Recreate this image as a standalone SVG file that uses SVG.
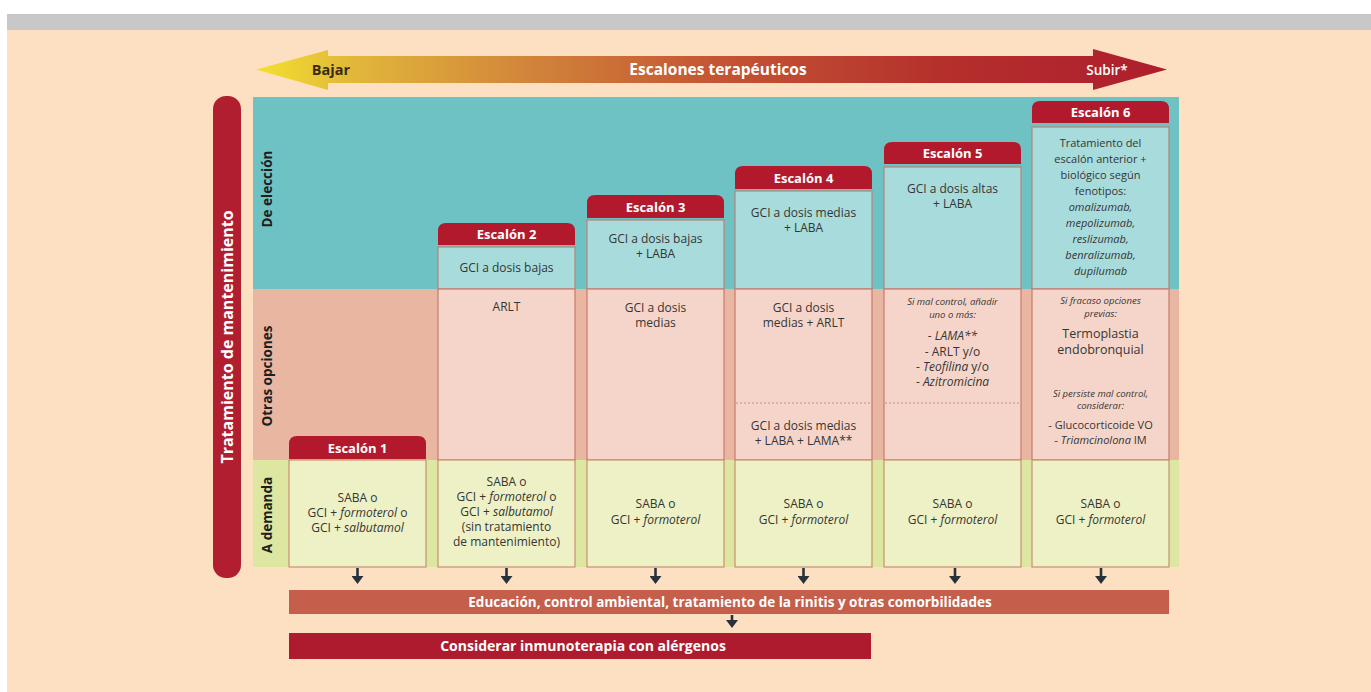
<svg xmlns="http://www.w3.org/2000/svg" width="1371" height="692" viewBox="0 0 1371 692">
<defs>
<linearGradient id="gArrow" gradientUnits="userSpaceOnUse" x1="256" y1="0" x2="1167" y2="0">
<stop offset="0" stop-color="#F4E12E"/>
<stop offset="0.1" stop-color="#E2B93A"/>
<stop offset="0.3" stop-color="#D2843A"/>
<stop offset="0.5" stop-color="#C45634"/>
<stop offset="0.75" stop-color="#B5302C"/>
<stop offset="1" stop-color="#AE1D2E"/>
</linearGradient>
<marker id="ahd" viewBox="0 0 12 9" refX="6" refY="1" markerWidth="12" markerHeight="9" markerUnits="userSpaceOnUse" orient="0">
<path d="M0,0 L12,0 L6,8 Z" fill="#28323D"/>
</marker>
</defs>
<style>
text{font-family:"Open Sans","Liberation Sans",sans-serif;}
.hdr{fill:#B3192D;}
.htx{fill:#FFFFFF;font-weight:700;font-size:13px;text-anchor:middle;}
.bt{fill:#A8DBDB;stroke:#B98279;stroke-width:1.2;}
.bs{fill:#F5D5C9;stroke:#C97A70;stroke-width:1.2;}
.bg{fill:#EDF1C5;stroke:#C99070;stroke-width:1.2;}
.t{fill:#353535;font-size:12px;text-anchor:middle;font-weight:500;}
.s{fill:#353535;font-size:9.5px;text-anchor:middle;font-style:italic;font-weight:500;}
.i{font-style:italic;}
.row{fill:#1E1E1E;font-weight:700;font-size:13.5px;text-anchor:middle;}
.dot{stroke:#C98C88;stroke-width:1.2;stroke-dasharray:2 2;fill:none;}
.con{stroke:#28323D;stroke-width:2.6;fill:none;}
</style>

<rect x="0" y="0" width="1371" height="692" fill="#FFFFFF"/>
<rect x="7" y="30" width="1364" height="662" fill="#FDE0C1"/>
<rect x="7" y="14" width="1364" height="16" fill="#C8C8C8"/>

<g id="arrow-escalones">
<path d="M256,69.5 L328,50 L328,56 L1093,56 L1093,49 L1167,69.5 L1093,90 L1093,83 L328,83 L328,90 Z" fill="url(#gArrow)"/>
<text x="331" y="75" style="fill:#3A2A10;font-weight:700;font-size:14.5px;text-anchor:middle;">Bajar</text>
<text x="718" y="75" style="fill:#FFFFFF;font-weight:700;font-size:15.5px;text-anchor:middle;">Escalones terapéuticos</text>
<text x="1107" y="75" style="fill:#FFFFFF;font-weight:600;font-size:13.5px;text-anchor:middle;">Subir*</text>
</g>

<g id="panel">
<rect x="253" y="97" width="926" height="192" fill="#6EC2C3"/>
<rect x="253" y="289" width="926" height="171" fill="#E9B7A1"/>
<rect x="253" y="460" width="926" height="107" fill="#DDE7A1"/>
</g>

<g id="tratamiento-mantenimiento">
<rect x="213" y="96" width="28" height="482" rx="13" fill="#B01E2F"/>
<text transform="translate(232.5,337) rotate(-90)" style="fill:#FFFFFF;font-weight:700;font-size:16px;text-anchor:middle;">Tratamiento de mantenimiento</text>
</g>

<g id="row-eleccion"><text class="row" transform="translate(272,189) rotate(-90)">De elección</text></g>
<g id="row-otras"><text class="row" transform="translate(272,376) rotate(-90)">Otras opciones</text></g>
<g id="row-demanda"><text class="row" transform="translate(272,515) rotate(-90)">A demanda</text></g>

<g id="escalon1">
<path class="hdr" d="M289,459 L289,444 Q289,436 297,436 L418,436 Q426,436 426,444 L426,459 Z"/>
<text class="htx" x="357.5" y="453">Escalón 1</text>
<rect class="bg" x="289" y="460" width="137" height="107"/>
<text class="t" x="357.5" y="502">SABA o</text>
<text class="t" x="357.5" y="517">GCI + <tspan class="i">formoterol</tspan> o</text>
<text class="t" x="357.5" y="532">GCI + <tspan class="i">salbutamol</tspan></text>
</g>

<g id="escalon2">
<path class="hdr" d="M438,245 L438,231 Q438,223 446,223 L567,223 Q575,223 575,231 L575,245 Z"/>
<text class="htx" x="506.5" y="239">Escalón 2</text>
<rect class="bt" x="438" y="247" width="137" height="42"/>
<rect class="bs" x="438" y="289" width="137" height="171"/>
<rect class="bg" x="438" y="460" width="137" height="107"/>
<text class="t" x="506.5" y="272">GCI a dosis bajas</text>
<text class="t" x="506.5" y="311">ARLT</text>
<text class="t" x="506.5" y="486">SABA o</text>
<text class="t" x="506.5" y="501">GCI + <tspan class="i">formoterol</tspan> o</text>
<text class="t" x="506.5" y="516">GCI + <tspan class="i">salbutamol</tspan></text>
<text class="t" x="506.5" y="531">(sin tratamiento</text>
<text class="t" x="506.5" y="546">de mantenimiento)</text>
</g>

<g id="escalon3">
<path class="hdr" d="M587,218 L587,203 Q587,195 595,195 L716,195 Q724,195 724,203 L724,218 Z"/>
<text class="htx" x="655.5" y="211.5">Escalón 3</text>
<rect class="bt" x="587" y="220" width="137" height="69"/>
<rect class="bs" x="587" y="289" width="137" height="171"/>
<rect class="bg" x="587" y="460" width="137" height="107"/>
<text class="t" x="655.5" y="243">GCI a dosis bajas</text>
<text class="t" x="655.5" y="258">+ LABA</text>
<text class="t" x="655.5" y="312">GCI a dosis</text>
<text class="t" x="655.5" y="327">medias</text>
<text class="t" x="655.5" y="508">SABA o</text>
<text class="t" x="655.5" y="524">GCI + <tspan class="i">formoterol</tspan></text>
</g>

<g id="escalon4">
<path class="hdr" d="M735,189 L735,174 Q735,166 743,166 L864,166 Q872,166 872,174 L872,189 Z"/>
<text class="htx" x="803.5" y="182.5">Escalón 4</text>
<rect class="bt" x="735" y="191" width="137" height="98"/>
<rect class="bs" x="735" y="289" width="137" height="171"/>
<rect class="bg" x="735" y="460" width="137" height="107"/>
<text class="t" x="803.5" y="217">GCI a dosis medias</text>
<text class="t" x="803.5" y="232">+ LABA</text>
<text class="t" x="803.5" y="312">GCI a dosis</text>
<text class="t" x="803.5" y="327">medias + ARLT</text>
<line class="dot" x1="736" y1="403" x2="871" y2="403"/>
<text class="t" x="803.5" y="430">GCI a dosis medias</text>
<text class="t" x="803.5" y="445">+ LABA + LAMA**</text>
<text class="t" x="803.5" y="508">SABA o</text>
<text class="t" x="803.5" y="524">GCI + <tspan class="i">formoterol</tspan></text>
</g>

<g id="escalon5">
<path class="hdr" d="M884,164 L884,150 Q884,142 892,142 L1013,142 Q1021,142 1021,150 L1021,164 Z"/>
<text class="htx" x="952.5" y="158">Escalón 5</text>
<rect class="bt" x="884" y="167" width="137" height="122"/>
<rect class="bs" x="884" y="289" width="137" height="171"/>
<rect class="bg" x="884" y="460" width="137" height="107"/>
<text class="t" x="952.5" y="193">GCI a dosis altas</text>
<text class="t" x="952.5" y="208">+ LABA</text>
<text class="s" x="952.5" y="305">Si mal control, añadir</text>
<text class="s" x="952.5" y="318">uno o más:</text>
<text class="t" x="952.5" y="340">- <tspan class="i">LAMA**</tspan></text>
<text class="t" x="952.5" y="356">- ARLT y/o</text>
<text class="t" x="952.5" y="371">- <tspan class="i">Teofilina</tspan> y/o</text>
<text class="t" x="952.5" y="386">- <tspan class="i">Azitromicina</tspan></text>
<line class="dot" x1="885" y1="403" x2="1020" y2="403"/>
<text class="t" x="952.5" y="508">SABA o</text>
<text class="t" x="952.5" y="524">GCI + <tspan class="i">formoterol</tspan></text>
</g>

<g id="escalon6">
<path class="hdr" d="M1032,123 L1032,109 Q1032,101 1040,101 L1161,101 Q1169,101 1169,109 L1169,123 Z"/>
<text class="htx" x="1100.5" y="117">Escalón 6</text>
<rect class="bt" x="1032" y="127" width="137" height="162"/>
<rect class="bs" x="1032" y="289" width="137" height="171"/>
<rect class="bg" x="1032" y="460" width="137" height="107"/>
<text class="t" x="1100.5" y="147" style="font-size:11px">Tratamiento del</text>
<text class="t" x="1100.5" y="163" style="font-size:11px">escalón anterior +</text>
<text class="t" x="1100.5" y="179" style="font-size:11px">biológico según</text>
<text class="t" x="1100.5" y="195" style="font-size:11px">fenotipos:</text>
<text class="t i" x="1100.5" y="211" style="font-size:11px">omalizumab,</text>
<text class="t i" x="1100.5" y="227" style="font-size:11px">mepolizumab,</text>
<text class="t i" x="1100.5" y="243" style="font-size:11px">reslizumab,</text>
<text class="t i" x="1100.5" y="259" style="font-size:11px">benralizumab,</text>
<text class="t i" x="1100.5" y="275" style="font-size:11px">dupilumab</text>
<text class="s" x="1100.5" y="304">Si fracaso opciones</text>
<text class="s" x="1100.5" y="317">previas:</text>
<text class="t" x="1100.5" y="338" style="font-size:12.5px">Termoplastia</text>
<text class="t" x="1100.5" y="354" style="font-size:12.5px">endobronquial</text>
<text class="s" x="1100.5" y="397">Si persiste mal control,</text>
<text class="s" x="1100.5" y="409">considerar:</text>
<text class="t" x="1100.5" y="429" style="font-size:11px">- Glucocorticoide VO</text>
<text class="t" x="1100.5" y="444" style="font-size:11px">- <tspan class="i">Triamcinolona</tspan> IM</text>
<text class="t" x="1100.5" y="508">SABA o</text>
<text class="t" x="1100.5" y="524">GCI + <tspan class="i">formoterol</tspan></text>
</g>

<g id="educacion">
<rect x="289" y="590" width="880" height="24" fill="#C55E4B"/>
<text x="730" y="607" style="fill:#FFFFFF;font-weight:700;font-size:13.5px;text-anchor:middle;">Educación, control ambiental, tratamiento de la rinitis y otras comorbilidades</text>
</g>

<g id="inmunoterapia">
<rect x="289" y="633" width="582" height="26" fill="#AF1B2E"/>
<text x="583" y="651" style="fill:#FFFFFF;font-weight:700;font-size:14px;text-anchor:middle;">Considerar inmunoterapia con alérgenos</text>
</g>

<g id="connectors">
<line class="con" x1="357.5" y1="568" x2="357.5" y2="577" marker-end="url(#ahd)"/>
<line class="con" x1="506.5" y1="568" x2="506.5" y2="577" marker-end="url(#ahd)"/>
<line class="con" x1="655.5" y1="568" x2="655.5" y2="577" marker-end="url(#ahd)"/>
<line class="con" x1="803.5" y1="568" x2="803.5" y2="577" marker-end="url(#ahd)"/>
<line class="con" x1="955" y1="568" x2="955" y2="577" marker-end="url(#ahd)"/>
<line class="con" x1="1101" y1="568" x2="1101" y2="577" marker-end="url(#ahd)"/>
<line class="con" x1="732" y1="615" x2="732" y2="621" marker-end="url(#ahd)"/>
</g>
</svg>
